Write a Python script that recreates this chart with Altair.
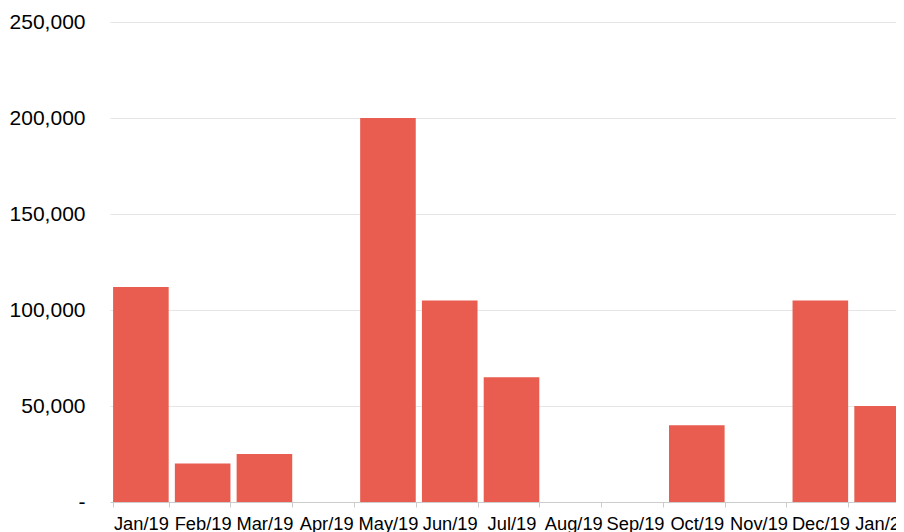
import altair as alt
import pandas as pd

months = ["Jan/19", "Feb/19", "Mar/19", "Apr/19", "May/19", "Jun/19", "Jul/19",
          "Aug/19", "Sep/19", "Oct/19", "Nov/19", "Dec/19", "Jan/20"]
values = [112000, 20000, 25000, 0, 200000, 105000, 65000, 0, 0, 40000, 0, 105000, 50000]
y_ticks = [0, 50000, 100000, 150000, 200000, 250000]

df = pd.DataFrame({"month": months, "value": values})

chart = alt.Chart(df).mark_bar(color="#E85D4F").encode(
    x=alt.X("month:N", sort=months, title=None,
            scale=alt.Scale(range=[0, 803], paddingInner=0.1, paddingOuter=0.05),
            axis=alt.Axis(labelAngle=0, labelFontSize=18.3, labelFont="Liberation Sans",
                          labelColor="#000000", domainColor="#cccccc", tickColor="#cccccc",
                          tickSize=5, tickBand="extent", labelPadding=8, grid=False,
                          labelOverlap=False)),
    y=alt.Y("value:Q", title=None,
            scale=alt.Scale(domain=[0, 250000], nice=False),
            axis=alt.Axis(values=y_ticks,
                          labelExpr="datum.value == 0 ? '-' : format(datum.value, ',')",
                          labelFontSize=21, labelFont="Liberation Sans", labelColor="#000000",
                          domain=False, ticks=False, labelPadding=25,
                          gridColor="#e6e6e6")),
).properties(
    width=786, height=480,
    autosize=alt.AutoSizeParams(type="none"),
    padding={"left": 102, "top": 14, "right": 0, "bottom": 30},
).configure_view(stroke=None)

chart.save("out.html", embed_options={"renderer": "svg", "actions": False})
